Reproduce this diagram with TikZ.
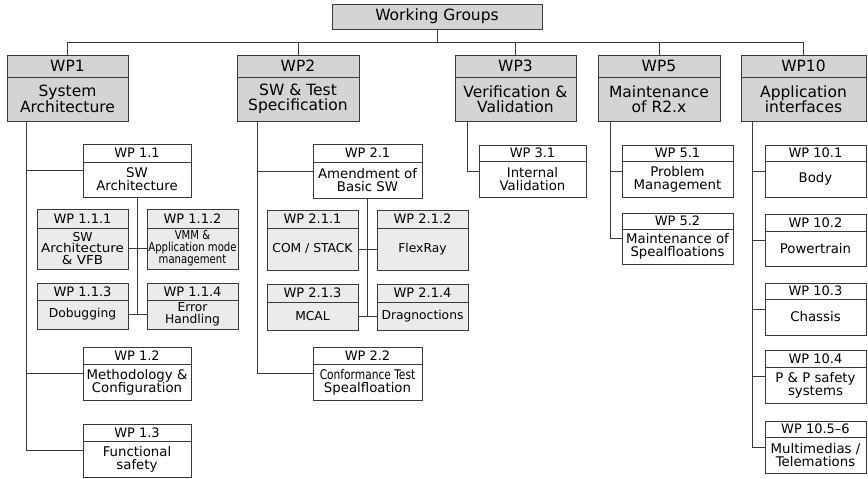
\documentclass[tikz,border=0pt]{standalone}
\usepackage{fontspec}
\usepackage{graphicx}
\setmainfont{DejaVu Sans}
\usetikzlibrary{fit}

\definecolor{hdrgray}{HTML}{D4D4D4}
\definecolor{subgray}{HTML}{EBEBEB}
\definecolor{edge}{HTML}{3A3A3A}

\tikzset{
  cell/.style={draw=edge, line width=0.95pt, inner sep=0pt, outer sep=0pt,
               align=center, anchor=north west},
  tophead/.style={cell, fill=hdrgray, font=\fontsize{15.5}{15.5}\selectfont},
  topbody/.style={cell, fill=hdrgray, font=\fontsize{15.5}{15.5}\selectfont},
  wphead/.style={cell, fill=white, font=\fontsize{13}{13}\selectfont},
  wpbody/.style={cell, fill=white, font=\fontsize{13.3}{13}\selectfont},
  subhead/.style={cell, fill=subgray, font=\fontsize{13}{13}\selectfont},
  subbody/.style={cell, fill=subgray, font=\fontsize{12.3}{11.8}\selectfont},
  frame/.style={inner sep=0pt, outer sep=0pt},
  link/.style={draw=edge, line width=0.85pt},
}

% #1 name, #2 kind (top/wp/sub), #3 x, #4 y, #5 width,
% #6 header height, #7 body height, #8 header text, #9 body text
\newcommand\wpbox[9]{%
  \node[#2head, minimum width=#5pt, minimum height=#6pt] (#1h) at (#3,#4) {#8};
  \node[#2body, minimum width=#5pt, minimum height=#7pt] (#1b) at (#1h.south west) {#9};
  \node[frame, fit=(#1h)(#1b)] (#1) {};
}

\begin{document}
\begin{tikzpicture}[x=1pt, y=-1pt]
\useasboundingbox (0,0) rectangle (868,479);

% root
\node[tophead, minimum width=210pt, minimum height=25pt] (wg) at (332,4) {Working Groups};

% work packages
\wpbox{wp1}{top}{7}{55}{121}{22}{44}{WP1}{System\\Architecture}
\wpbox{wp2}{top}{237}{55}{122}{22}{44}{WP2}{SW \& Test\\Specification}
\wpbox{wp3}{top}{455}{55}{121}{22}{44}{WP3}{Verification \&\\Validation}
\wpbox{wp5}{top}{598}{55}{122}{22}{44}{WP5}{Maintenance\\of R2.x}
\wpbox{wp10}{top}{741}{55}{125}{22}{44}{WP10}{Application\\interfaces}

% WP1 children
\wpbox{wp11}{wp}{83}{144}{108}{18}{35}{WP 1.1}{SW\\Architecture}
\wpbox{wp111}{sub}{37}{209}{91}{19}{41}{WP 1.1.1}{SW\\\scalebox{1.1}[1]{Architecture}\\\scalebox{1.1}[1]{\& VFB}}
\wpbox{wp112}{sub}{147}{209}{91}{19}{41}{WP 1.1.2}{\scalebox{0.82}[1]{VMM \&}\\\scalebox{0.82}[1]{Application mode}\\\scalebox{0.82}[1]{management}}
\wpbox{wp113}{sub}{37}{283}{91}{17}{29}{WP 1.1.3}{Dobugging}
\wpbox{wp114}{sub}{147}{283}{91}{17}{29}{WP 1.1.4}{Error\\Handling}
\wpbox{wp12}{wp}{83}{347}{108}{17}{36}{WP 1.2}{Methodology \&\\Configuration}
\wpbox{wp13}{wp}{83}{424}{108}{17}{36}{WP 1.3}{Functional\\safety}

% WP2 children
\wpbox{wp21}{wp}{313}{144}{109}{18}{36}{WP 2.1}{Amendment of\\Basic SW}
\wpbox{wp211}{sub}{267}{210}{91}{18}{42}{WP 2.1.1}{COM / STACK}
\wpbox{wp212}{sub}{377}{210}{91}{18}{42}{WP 2.1.2}{FlexRay}
\wpbox{wp213}{sub}{267}{284}{91}{18}{28}{WP 2.1.3}{MCAL}
\wpbox{wp214}{sub}{377}{284}{91}{18}{28}{WP 2.1.4}{Dragnoctions}
\wpbox{wp22}{wp}{313}{347}{109}{17}{36}{WP 2.2}{\scalebox{0.8}[1]{Conformance Test}\\Spealfloation}

% WP3 children
\wpbox{wp31}{wp}{479}{145}{107}{16}{36}{WP 3.1}{Internal\\Validation}

% WP5 children
\wpbox{wp51}{wp}{622}{145}{111}{16}{36}{WP 5.1}{Problem\\Management}
\wpbox{wp52}{wp}{622}{213}{111}{16}{35}{WP 5.2}{Maintenance of\\Spealfloations}

% WP10 children
\wpbox{wp101}{wp}{765}{145}{101}{16}{36}{WP 10.1}{Body}
\wpbox{wp102}{wp}{765}{214}{101}{17}{35}{WP 10.2}{Powertrain}
\wpbox{wp103}{wp}{765}{283}{101}{16}{36}{WP 10.3}{Chassis}
\wpbox{wp104}{wp}{765}{350}{101}{17}{36}{WP 10.4}{P \& P safety\\systems}
\wpbox{wp1056}{wp}{765}{421}{101}{16}{36}{WP 10.5--6}{Multimedias /\\Telemations}

% top bus
\coordinate (bus) at (437,42.5);
\draw[link] (wg.south) -- (wg.south |- bus);
\draw[link] (wp1.north) -- (wp1.north |- bus) -- (wp10.north |- bus) -- (wp10.north);
\foreach \n in {wp2,wp3,wp5}
  \draw[link] (\n.north) -- (\n.north |- bus);

% WP1 tree
\coordinate (t1) at ([xshift=19pt]wp1.south west);
\draw[link] (t1) |- (wp13.west);
\draw[link] (t1 |- wp11.west) -- (wp11.west);
\draw[link] (t1 |- wp12.west) -- (wp12.west);
\draw[link] (wp11.south) -- (wp11.south |- wp113b.east);
\draw[link] (wp111b.east) -- (wp112b.west);
\draw[link] (wp113b.east) -- (wp114b.west);

% WP2 tree
\coordinate (t2) at ([xshift=20pt]wp2.south west);
\draw[link] (t2) |- (wp22.west);
\draw[link] (t2 |- wp21.west) -- (wp21.west);
\draw[link] (wp21.south) -- (wp21.south |- wp213b.east);
\draw[link] (wp211b.east) -- (wp212b.west);
\draw[link] (wp213b.east) -- (wp214b.west);

% WP3 tree
\coordinate (t3) at ([xshift=12pt]wp3.south west);
\draw[link] (t3) |- (wp31.west);

% WP5 tree
\coordinate (t5) at ([xshift=12pt]wp5.south west);
\draw[link] (t5) |- (wp52.west);
\draw[link] (t5 |- wp51.west) -- (wp51.west);

% WP10 tree
\coordinate (t10) at ([xshift=11pt]wp10.south west);
\draw[link] (t10) |- (wp1056.west);
\foreach \n in {wp101,wp102,wp103,wp104}
  \draw[link] (t10 |- \n.west) -- (\n.west);
\end{tikzpicture}
\end{document}
